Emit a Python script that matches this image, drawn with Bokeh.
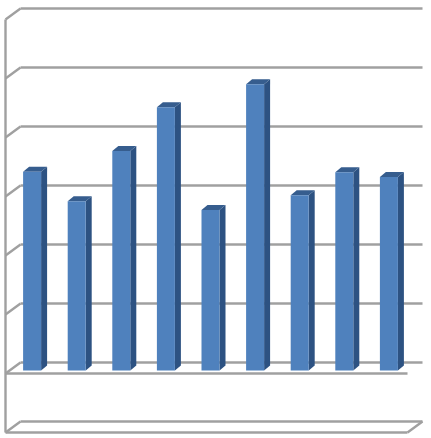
from bokeh.plotting import figure
from bokeh.embed import file_html
from bokeh.resources import INLINE
from bokeh.models import Range1d

categories = list(range(1, 10))
values = [3.37, 2.87, 3.72, 4.46, 2.72, 4.85, 2.97, 3.36, 3.28]
ticks = [-1, 0, 1, 2, 3, 4, 5, 6]

W, H = 431, 438
XU, YU = 44.6, 59.0   # pixels per category / per value unit
x0 = 1 - 31.6 / XU
y1 = 370 / YU

p = figure(width=W, height=H, x_range=Range1d(x0, x0 + W / XU), y_range=Range1d(y1 - H / YU, y1),
           toolbar_location=None, output_backend="svg", min_border=0,
           background_fill_color="white", border_fill_color="white",
           outline_line_color=None)
p.axis.visible = False
p.grid.visible = False

# wall geometry, in data units
xl_front = 1 + (5 - 31.6) / XU
xl_back = 1 + (20 - 31.6) / XU
xr_front = 1 + (407 - 31.6) / XU
xr_back = 1 + (422 - 31.6) / XU
yb, yf = 8 / YU, -3 / YU
grid = "#a0a0a0"
lw = 2.4

for t in ticks:
    p.line([xl_back, xr_back], [t + yb, t + yb], line_color=grid, line_width=lw)
    p.line([xl_front, xl_back], [t + yf, t + yb], line_color=grid, line_width=lw)
p.line([xl_front, xl_front], [ticks[0] + yf, ticks[-1] + yf], line_color=grid, line_width=lw)
p.line([xl_front, xr_front], [ticks[0] + yf, ticks[0] + yf], line_color=grid, line_width=lw)
p.line([xl_front, xr_front], [yf, yf], line_color=grid, line_width=lw)
p.line([xr_front, xr_back], [ticks[0] + yf, ticks[0] + yb], line_color=grid, line_width=lw)

# bars
hw = 9 / XU
dx, dy = 6 / XU, 5 / YU
side_xs = [[c + hw, c + hw + dx, c + hw + dx, c + hw] for c in categories]
side_ys = [[0, dy, v + dy, v] for v in values]
top_xs = [[c - hw, c - hw + dx, c + hw + dx, c + hw] for c in categories]
top_ys = [[v, v + dy, v + dy, v] for v in values]
p.patches(side_xs, side_ys, fill_color="#2d5282", line_color=None)
p.patches(top_xs, top_ys, fill_color="#365d8e", line_color=None)
p.vbar(x=categories, top=values, bottom=0, width=2 * hw, fill_color="#4f81bd", line_color=None)

open("out.html", "w").write(file_html(p, INLINE))
